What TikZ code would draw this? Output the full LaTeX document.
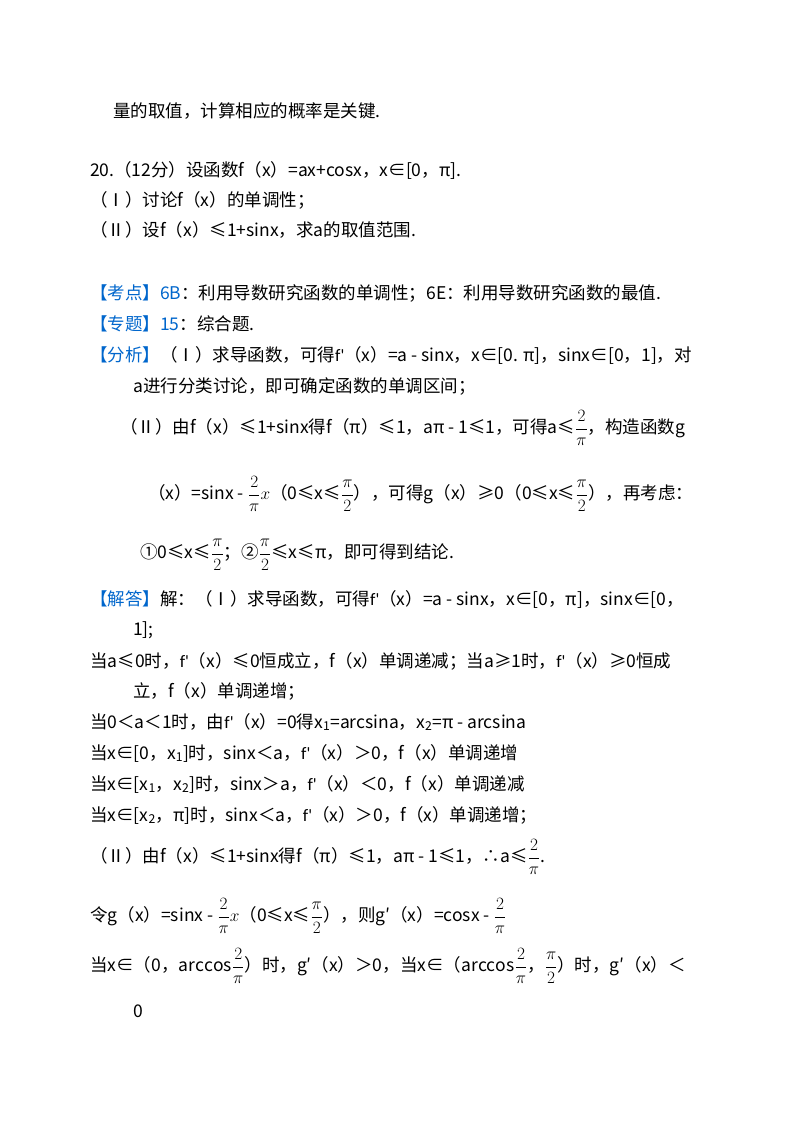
\documentclass[tikz,border=0pt]{standalone}
\usepackage{fontspec}
\setmainfont{Noto Sans CJK SC}
\newfontfamily\lat{Carlito}
\definecolor{kblue}{RGB}{0,102,204}
\newcommand{\kb}[1]{\textcolor{kblue}{#1}}
\newcommand{\fr}[2]{$\displaystyle\frac{#1}{#2}$}
\newcommand{\fp}{{\lat f'}}
\begin{document}
\begin{tikzpicture}[x=1pt,y=-1pt,every node/.style={anchor=west,inner sep=0pt,font=\fontsize{17.5}{20}\selectfont}]
\useasboundingbox (0,0) rectangle (800,1133);
\node (l1) at (113,111) {量的取值，计算相应的概率是关键.};
\node (l2) at (90,170) {20.（12分）设函数f（x）=ax+cosx，x∈[0，π].};
\node (l3) at (90,200) {（Ⅰ）讨论f（x）的单调性；};
\node (l4) at (90,230) {（Ⅱ）设f（x）≤1+sinx，求a的取值范围.};
\node (l5) at (90,293) {\kb{【考点】6B}：利用导数研究函数的单调性；6E：利用导数研究函数的最值.};
\node (l6) at (90,324) {\kb{【专题】15}：综合题.};
\node (l7) at (90,355) {\kb{【分析】}（Ⅰ）求导函数，可得\fp（x）=a - sinx，x∈[0. π]，sinx∈[0，1]，对};
\node (l8) at (133,386) {a进行分类讨论，即可确定函数的单调区间；};
\node (l9) at (120,428) {（Ⅱ）由f（x）≤1+sinx得f（π）≤1，aπ - 1≤1，可得a≤\fr{2}{\pi}，构造函数g};
\node (l10) at (148,494) {（x）=sinx - \fr{2}{\pi}$x$（0≤x≤\fr{\pi}{2}），可得g（x）≥0（0≤x≤\fr{\pi}{2}），再考虑：};
\node (l11) at (140,555) {①0≤x≤\fr{\pi}{2}；②\fr{\pi}{2}≤x≤π，即可得到结论.};
\node (l12) at (90,599) {\kb{【解答】}解：（Ⅰ）求导函数，可得\fp（x）=a - sinx，x∈[0，π]，sinx∈[0，};
\node (l13) at (133,630) {1];};
\node (l14) at (90,661) {当a≤0时，\fp（x）≤0恒成立，f（x）单调递减；当a≥1时，\fp（x）≥0恒成};
\node (l15) at (133,691) {立，f（x）单调递增；};
\node (l16) at (90,722) {当0＜a＜1时，由\fp（x）=0得x\textsubscript{1}=arcsina，x\textsubscript{2}=π - arcsina};
\node (l17) at (90,753) {当x∈[0，x\textsubscript{1}]时，sinx＜a，\fp（x）＞0，f（x）单调递增};
\node (l18) at (90,784) {当x∈[x\textsubscript{1}，x\textsubscript{2}]时，sinx＞a，\fp（x）＜0，f（x）单调递减};
\node (l19) at (90,815) {当x∈[x\textsubscript{2}，π]时，sinx＜a，\fp（x）＞0，f（x）单调递增；};
\node (l20) at (90,857) {（Ⅱ）由f（x）≤1+sinx得f（π）≤1，aπ - 1≤1，∴a≤\fr{2}{\pi}.};
\node (l21) at (90,916) {令g（x）=sinx - \fr{2}{\pi}$x$（0≤x≤\fr{\pi}{2}），则g′（x）=cosx - \fr{2}{\pi}};
\node (l22) at (90,966) {当x∈（0，$\mathrm{arccos}$\fr{2}{\pi}）时，g′（x）＞0，当x∈（$\mathrm{arccos}$\fr{2}{\pi}，\fr{\pi}{2}）时，g′（x）＜};
\node (l23) at (133,1011) {0};
\end{tikzpicture}
\end{document}
